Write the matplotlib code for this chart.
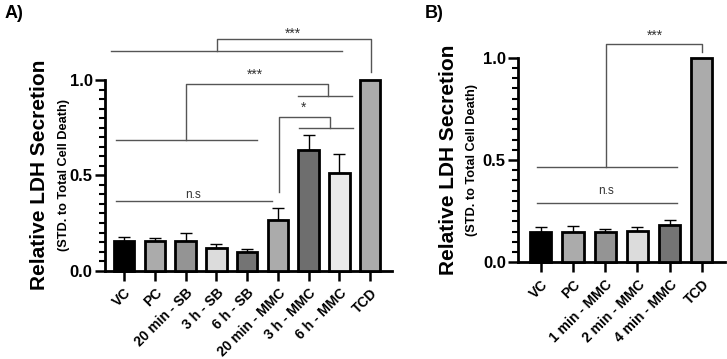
import matplotlib.pyplot as plt
from matplotlib.ticker import MultipleLocator

plt.rcParams["font.family"] = ["Liberation Sans", "DejaVu Sans"]
plt.rcParams["font.weight"] = "bold"

# panel A
labels_a = ["VC", "PC", "20 min - SB", "3 h - SB", "6 h - SB",
            "20 min - MMC", "3 h - MMC", "6 h - MMC", "TCD"]
means_a = [0.154, 0.154, 0.157, 0.117, 0.098, 0.267, 0.633, 0.514, 1.0]
errs_a = [0.023, 0.019, 0.041, 0.021, 0.014, 0.063, 0.080, 0.100, 0.0]
colors_a = ["#000000", "#ababab", "#949494", "#dcdcdc", "#747474",
            "#ababab", "#6e6e6e", "#ebebeb", "#ababab"]

# panel B
labels_b = ["VC", "PC", "1 min - MMC", "2 min - MMC", "4 min - MMC", "TCD"]
means_b = [0.148, 0.148, 0.146, 0.151, 0.184, 1.0]
errs_b = [0.026, 0.028, 0.018, 0.023, 0.021, 0.0]
colors_b = ["#000000", "#ababab", "#949494", "#dcdcdc", "#747474", "#ababab"]

LINE = "#555555"
W, H = 727, 359


def bar_panel(ax, labels, means, errs, colors, xlim):
    x = range(len(labels))
    ax.bar(x, means, width=0.66, color=colors, edgecolor="black",
           linewidth=2, zorder=3, clip_on=False)
    ax.errorbar(x, means, yerr=[[0] * len(errs), errs], fmt="none",
                ecolor="black", elinewidth=1, capsize=4, capthick=1, zorder=2)
    ax.set_xlim(*xlim)
    ax.set_ylim(0, 1.0)
    ax.set_xticks(list(x))
    ax.set_xticklabels(labels, rotation=45, ha="right", rotation_mode="anchor",
                       fontsize=10, fontweight="bold")
    ax.yaxis.set_minor_locator(MultipleLocator(0.05))
    ax.set_yticks([0, 0.5, 1.0])
    ax.set_yticklabels(["0.0", "0.5", "1.0"], fontsize=12, fontweight="bold")
    ax.tick_params(axis="both", which="major", direction="out", length=7,
                   width=1.8, pad=2)
    ax.tick_params(axis="y", which="minor", direction="out", length=4, width=1.5)
    ax.tick_params(axis="x", which="major", pad=4)
    for s in ["top", "right"]:
        ax.spines[s].set_visible(False)
    for s in ["left", "bottom"]:
        ax.spines[s].set_linewidth(2)


def ylabels(x_big, x_small, y_mid):
    fig.text(x_big / W, 1 - y_mid / H, "Relative LDH Secretion", rotation=90,
             ha="center", va="center", fontsize=15, fontweight="bold")
    fig.text(x_small / W, 1 - y_mid / H, "(STD. to Total Cell Death)",
             rotation=90, ha="center", va="center", fontsize=9.2,
             fontweight="bold")


def hline(ax, x0, x1, y):
    ax.plot([x0, x1], [y, y], color=LINE, lw=1, clip_on=False, zorder=1)


def bracket(ax, x0, y0, x1, y1, top):
    ax.plot([x0, x0, x1, x1], [y0, top, top, y1], color=LINE, lw=1,
            clip_on=False, zorder=1)


def star(ax, x, y, s, size=10):
    ax.text(x, y, s, ha="center", va="center", fontsize=size,
            color="#333333", fontweight="normal")


fig = plt.figure(figsize=(W / 100, H / 100), dpi=100)
ax_a = fig.add_axes([105 / W, 1 - 270.7 / H, 287 / W, 190.7 / H])
ax_b = fig.add_axes([518.3 / W, 1 - 262.3 / H, 206.7 / W, 204.6 / H])

bar_panel(ax_a, labels_a, means_a, errs_a, colors_a, (-0.62, 8.71))
bar_panel(ax_b, labels_b, means_b, errs_b, colors_b, (-0.70, 5.72))
ylabels(40, 64, 175)
ylabels(448, 472, 160)

# panel A annotations
hline(ax_a, -0.42, 7.09, 1.154)
bracket(ax_a, 3.01, 1.154, 8.03, 1.042, 1.215)
star(ax_a, 5.5, 1.24, "***")

hline(ax_a, -0.27, 4.32, 0.684)
bracket(ax_a, 2.0, 0.684, 6.62, 0.916, 0.977)
hline(ax_a, 5.65, 7.42, 0.916)
star(ax_a, 4.25, 1.025, "***")

bracket(ax_a, 5.04, 0.414, 6.70, 0.748, 0.808)
hline(ax_a, 5.69, 7.45, 0.748)
star(ax_a, 5.83, 0.855, "*")

hline(ax_a, -0.27, 4.8, 0.364)
star(ax_a, 2.24, 0.395, "n.s", 8.5)

# panel B annotations
hline(ax_b, -0.12, 4.22, 0.467)
bracket(ax_b, 2.02, 0.467, 5.0, 1.029, 1.068)
star(ax_b, 3.54, 1.105, "***")
hline(ax_b, -0.12, 4.22, 0.288)
star(ax_b, 2.02, 0.35, "n.s", 8.5)

fig.text(5 / W, 1 - 13 / H, "A)", fontsize=13, fontweight="bold",
         va="center")
fig.text(425 / W, 1 - 13 / H, "B)", fontsize=13, fontweight="bold",
         va="center")

fig.savefig("out.png", dpi=100)
